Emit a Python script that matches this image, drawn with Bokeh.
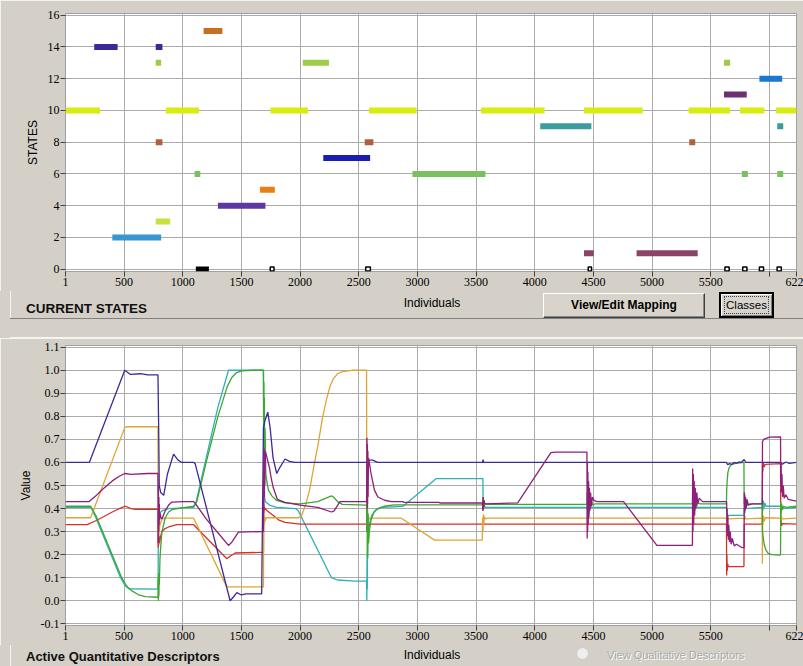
import numpy as np
from bokeh.plotting import figure
from bokeh.models import ColumnDataSource, FixedTicker, Range1d, PrintfTickFormatter, Div
from bokeh.layouts import column
from bokeh.embed import file_html
from bokeh.resources import INLINE

PANEL = "#d4d0c8"
GRID = "#ababab"
FONT = "Liberation Sans"
TICK_FONT = "Liberation Sans Narrow"
W = 803

XMAX = 6231
x_ticks = [1, 500, 1000, 1500, 2000, 2500, 3000, 3500, 4000, 4500, 5000, 5500, 6000, XMAX]
x_overrides = {6000: "", XMAX: "622"}

# ---------------- top chart: current states ----------------
state_ticks = [0, 2, 4, 6, 8, 10, 12, 14, 16]
seg_start = [1, 246, 770, 770, 1178, 856, 770, 1101, 1659, 1300, 770, 400, 2024, 1748, 2198,
             2551, 2588, 2958, 3543, 4047, 4420, 4420, 4868, 5317, 5312, 5613, 5613, 5750,
             5765, 5915, 6058, 6067, 6067]
seg_end = [295, 445, 827, 816, 1338, 1138, 827, 1150, 1785, 1705, 893, 816, 2246, 2067, 2597,
           2625, 2993, 3580, 4084, 4483, 4919, 4503, 5389, 5368, 5665, 5665, 5807, 5958,
           5816, 6109, 6231, 6118, 6118]
seg_state = [10, 14, 14, 13, 15, 10, 8, 6, 5, 4, 3, 2, 13, 10, 7,
             8, 10, 6, 10, 9, 10, 1, 1, 8, 10, 13, 11, 10,
             6, 12, 10, 9, 6]
zero_solid_start = [1112]
zero_solid_end = [1223]
zero_open_start = [1739, 2551, 4450, 5613, 5765, 5907, 6058]
zero_open_end = [1785, 2608, 4490, 5665, 5816, 5958, 6109]

state_colors = {1: "#8c4466", 2: "#3897d0", 3: "#c8e040", 4: "#5c38a0", 5: "#e88018",
                6: "#78c060", 7: "#1c1cb0", 8: "#b0603c", 9: "#3a9c9c", 10: "#d8ec10",
                11: "#6e3070", 12: "#1a78d0", 13: "#9ccc48", 14: "#3a2a96", 15: "#c4701e"}

# ---------------- bottom chart: quantitative descriptors ----------------
value_ticks = [-0.1, 0.0, 0.1, 0.2, 0.3, 0.4, 0.5, 0.6, 0.7, 0.8, 0.9, 1.0, 1.1]

indigo_pts = [(1, 0.6), (204, 0.6), (506, 1.0), (520, 0.995), (555, 0.982), (640, 0.985),
              (700, 0.98), (789, 0.98), (795, 0.75), (800, 0.5), (812, 0.47), (838, 0.457),
              (870, 0.55), (922, 0.636), (960, 0.61), (993, 0.6), (1093, 0.6), (1106, 0.595),
              (1404, 0.0), (1430, 0.015), (1461, 0.035), (1500, 0.025), (1540, 0.03),
              (1673, 0.03), (1688, 0.75), (1700, 0.78), (1725, 0.818), (1745, 0.75),
              (1770, 0.62), (1801, 0.552), (1830, 0.58), (1872, 0.615), (1910, 0.605),
              (1957, 0.6), (2567, 0.6), (2575, 0.6), (2590, 0.61), (2620, 0.61), (2660, 0.6),
              (3555, 0.6), (3560, 0.612), (3565, 0.6), (5633, 0.6), (5645, 0.59), (5660, 0.595),
              (5680, 0.592), (5700, 0.6), (5720, 0.597), (5740, 0.602), (5760, 0.6),
              (5785, 0.613), (5800, 0.6), (5940, 0.6), (5960, 0.6), (6000, 0.6), (6095, 0.6),
              (6110, 0.592), (6140, 0.602), (6170, 0.596), (6231, 0.6)]

magenta_pts = [(1, 0.43), (200, 0.43), (260, 0.455), (320, 0.485), (400, 0.52), (460, 0.54),
               (505, 0.552), (560, 0.548), (700, 0.552), (789, 0.553), (791, 0.25), (793, 0.5),
               (795, 0.3), (797, 0.45), (799, 0.33), (801, 0.42), (803, 0.35), (806, 0.38),
               (815, 0.36), (823, 0.355), (851, 0.39), (880, 0.415), (908, 0.428), (1000, 0.43),
               (1093, 0.43), (1110, 0.42), (1200, 0.355), (1300, 0.295), (1390, 0.24),
               (1420, 0.255), (1475, 0.298), (1673, 0.3), (1688, 0.3), (1690, 0.6), (1692, 0.4),
               (1694, 0.66), (1696, 0.45), (1698, 0.64), (1700, 0.5), (1705, 0.648),
               (1738, 0.58), (1755, 0.53), (1772, 0.49), (1806, 0.44), (1872, 0.427),
               (2000, 0.415), (2150, 0.405), (2268, 0.385), (2290, 0.39), (2340, 0.43),
               (2567, 0.43), (2570, 0.707), (2572, 0.4), (2574, 0.68), (2576, 0.42),
               (2578, 0.65), (2580, 0.45), (2583, 0.62), (2590, 0.6), (2605, 0.552),
               (2634, 0.48), (2663, 0.45), (2720, 0.436), (2780, 0.43), (2878, 0.43),
               (2885, 0.427), (3185, 0.427), (3192, 0.424), (3555, 0.424),
               (3558, 0.39), (3561, 0.45), (3564, 0.4), (3568, 0.435), (3575, 0.42),
               (3855, 0.425), (4138, 0.643), (4180, 0.645), (4436, 0.645), (4445, 0.645),
               (4447, 0.27), (4449, 0.6), (4451, 0.3), (4453, 0.56), (4456, 0.33), (4459, 0.52),
               (4462, 0.36), (4466, 0.49), (4470, 0.39), (4476, 0.47), (4483, 0.41),
               (4492, 0.45), (4505, 0.435), (4530, 0.43), (4757, 0.43), (5041, 0.24),
               (5344, 0.24), (5346, 0.574), (5349, 0.3), (5352, 0.55), (5355, 0.33),
               (5359, 0.52), (5363, 0.37), (5368, 0.49), (5374, 0.4), (5381, 0.47),
               (5390, 0.42), (5402, 0.445), (5430, 0.43), (5634, 0.43), (5636, 0.42),
               (5638, 0.3), (5640, 0.4), (5643, 0.28), (5646, 0.37), (5650, 0.265),
               (5654, 0.33), (5660, 0.255), (5666, 0.3), (5674, 0.245), (5684, 0.27),
               (5700, 0.238), (5720, 0.245), (5768, 0.23), (5784, 0.23), (5786, 0.47),
               (5788, 0.38), (5790, 0.46), (5793, 0.39), (5797, 0.45), (5802, 0.4),
               (5810, 0.44), (5820, 0.415), (5854, 0.42), (5939, 0.42), (5941, 0.69),
               (5950, 0.7), (6000, 0.71), (6095, 0.711), (6097, 0.5), (6100, 0.6),
               (6103, 0.47), (6107, 0.55), (6112, 0.45), (6118, 0.5), (6126, 0.445),
               (6140, 0.46), (6160, 0.44), (6200, 0.435), (6231, 0.432)]

green_pts = [(1, 0.41), (215, 0.41), (260, 0.37), (480, 0.1), (520, 0.065), (560, 0.045),
             (620, 0.027), (680, 0.018), (789, 0.015), (791, 0.1), (793, 0.0), (795, 0.12),
             (797, 0.02), (799, 0.1), (801, 0.07), (806, 0.18), (812, 0.23), (823, 0.3),
             (851, 0.36), (880, 0.385), (908, 0.395), (993, 0.403), (1093, 0.41),
             (1120, 0.43), (1200, 0.6), (1300, 0.8), (1380, 0.93), (1420, 0.97), (1460, 0.99),
             (1503, 0.997), (1600, 1.0), (1688, 1.0), (1690, 0.78), (1692, 0.95), (1694, 0.7),
             (1696, 0.88), (1698, 0.62), (1702, 0.75), (1708, 0.55), (1716, 0.52),
             (1730, 0.48), (1760, 0.455), (1800, 0.435), (1872, 0.425), (2000, 0.42),
             (2150, 0.43), (2268, 0.455), (2285, 0.45), (2320, 0.43), (2360, 0.418),
             (2567, 0.415), (2569, 0.3), (2571, 0.45), (2573, 0.2), (2575, 0.42),
             (2577, 0.185), (2580, 0.38), (2584, 0.25), (2590, 0.3), (2605, 0.35),
             (2630, 0.385), (2660, 0.4), (2720, 0.41), (2800, 0.416), (3555, 0.416),
             (3558, 0.45), (3561, 0.39), (3564, 0.44), (3568, 0.405), (3575, 0.42),
             (3600, 0.418), (4445, 0.418), (4447, 0.47), (4450, 0.34), (4453, 0.46),
             (4456, 0.36), (4460, 0.45), (4464, 0.38), (4469, 0.44), (4475, 0.4),
             (4483, 0.43), (4495, 0.415), (4510, 0.42), (5344, 0.42), (5346, 0.47),
             (5349, 0.35), (5352, 0.46), (5356, 0.37), (5360, 0.45), (5365, 0.39),
             (5372, 0.435), (5380, 0.41), (5392, 0.425), (5410, 0.42), (5634, 0.42),
             (5636, 0.48), (5640, 0.52), (5646, 0.555), (5655, 0.575), (5670, 0.588),
             (5700, 0.595), (5783, 0.6), (5785, 0.42), (5787, 0.47), (5789, 0.38),
             (5792, 0.45), (5796, 0.4), (5802, 0.43), (5812, 0.415), (5830, 0.42),
             (5939, 0.42), (5941, 0.3), (5946, 0.28), (5955, 0.245), (5970, 0.22),
             (5990, 0.205), (6020, 0.2), (6095, 0.198), (6097, 0.43), (6100, 0.38),
             (6104, 0.42), (6110, 0.395), (6120, 0.41), (6140, 0.405), (6231, 0.41)]

teal_pts = [(1, 0.405), (220, 0.405), (260, 0.36), (470, 0.1), (510, 0.065), (540, 0.052),
            (789, 0.05), (791, 0.15), (793, 0.35), (795, 0.25), (797, 0.4), (800, 0.36),
            (806, 0.38), (823, 0.39), (880, 0.4), (1093, 0.405), (1110, 0.42), (1200, 0.62),
            (1300, 0.84), (1390, 1.0), (1688, 1.0), (1690, 0.6), (1692, 0.8), (1694, 0.5),
            (1697, 0.45), (1705, 0.43), (1740, 0.415), (1800, 0.405), (1960, 0.4),
            (1985, 0.39), (2268, 0.1), (2320, 0.09), (2465, 0.085), (2567, 0.085),
            (2569, 0.0), (2571, 0.2), (2573, 0.05), (2576, 0.3), (2580, 0.25), (2590, 0.33),
            (2610, 0.37), (2650, 0.395), (2700, 0.405), (2878, 0.41), (3161, 0.53),
            (3558, 0.53), (3560, 0.44), (3562, 0.4), (3566, 0.415), (3580, 0.405),
            (5634, 0.405), (5636, 0.38), (5645, 0.37), (5783, 0.37), (5785, 0.4),
            (5939, 0.405), (5941, 0.44), (5944, 0.39), (5948, 0.435), (5953, 0.4),
            (5960, 0.425), (5970, 0.41), (6095, 0.41), (6098, 0.38), (6102, 0.415),
            (6110, 0.4), (6231, 0.405)]

orange_pts = [(1, 0.36), (215, 0.36), (505, 0.75), (520, 0.755), (789, 0.755), (791, 0.3),
              (793, 0.45), (795, 0.29), (797, 0.38), (800, 0.3), (806, 0.33), (823, 0.355),
              (850, 0.358), (1093, 0.358), (1376, 0.06), (1673, 0.06), (1688, 0.06),
              (1690, 0.34), (1692, 0.38), (1694, 0.33), (1697, 0.365), (1702, 0.345),
              (1710, 0.36), (1985, 0.36), (2013, 0.37), (2050, 0.42), (2085, 0.49),
              (2120, 0.59), (2156, 0.685), (2190, 0.79), (2226, 0.875), (2255, 0.93),
              (2283, 0.963), (2320, 0.985), (2354, 0.993), (2439, 1.0), (2567, 1.0),
              (2569, 0.36), (2571, 0.32), (2574, 0.38), (2577, 0.34), (2582, 0.365),
              (2590, 0.355), (2600, 0.358), (2863, 0.358), (3147, 0.263), (3553, 0.263),
              (3556, 0.36), (3559, 0.3), (3562, 0.375), (3566, 0.335), (3571, 0.365),
              (3580, 0.355), (3600, 0.358), (5634, 0.358), (5636, 0.345), (5640, 0.37),
              (5645, 0.355), (5783, 0.358), (5785, 0.35), (5789, 0.37), (5795, 0.355),
              (5939, 0.358), (5940, 0.16), (5942, 0.36), (5945, 0.33), (5950, 0.37),
              (5956, 0.345), (5965, 0.36), (6095, 0.358), (6097, 0.34), (6101, 0.37),
              (6108, 0.355), (6231, 0.358)]

red_pts = [(1, 0.33), (186, 0.33), (250, 0.345), (313, 0.361), (400, 0.385), (483, 0.405),
           (512, 0.41), (560, 0.4), (597, 0.397), (789, 0.397), (791, 0.23), (793, 0.3),
           (795, 0.24), (798, 0.28), (802, 0.25), (812, 0.28), (823, 0.3), (850, 0.313),
           (880, 0.32), (950, 0.33), (1093, 0.33), (1376, 0.182), (1410, 0.195),
           (1447, 0.207), (1673, 0.21), (1688, 0.21), (1690, 0.42), (1692, 0.38),
           (1695, 0.405), (1720, 0.39), (1772, 0.37), (1820, 0.35), (1872, 0.34),
           (2000, 0.332), (2567, 0.332), (2569, 0.3), (2571, 0.34), (2574, 0.31),
           (2578, 0.335), (2585, 0.325), (2600, 0.332), (5634, 0.332), (5636, 0.11),
           (5638, 0.2), (5641, 0.13), (5645, 0.16), (5650, 0.148), (5783, 0.148),
           (5785, 0.332), (5939, 0.332), (5941, 0.59), (5944, 0.56), (5948, 0.6),
           (5955, 0.58), (5965, 0.592), (6095, 0.595), (6097, 0.332), (6100, 0.35),
           (6104, 0.325), (6110, 0.335), (6231, 0.332)]

series = [(teal_pts, "#2fb0b4"), (red_pts, "#d23228"), (orange_pts, "#e0a432"),
          (green_pts, "#3fa62f"), (indigo_pts, "#3c2a9a"), (magenta_pts, "#8e1f7a")]


def style(p, yticks):
    p.background_fill_color = "white"
    p.border_fill_color = PANEL
    p.outline_line_color = "#a0a0a0"
    p.xaxis.ticker = FixedTicker(ticks=x_ticks)
    p.xaxis.major_label_overrides = x_overrides
    p.yaxis.ticker = FixedTicker(ticks=yticks)
    for ax in (p.xaxis[0], p.yaxis[0]):
        ax.axis_line_color = None
        ax.major_tick_line_color = "#404040"
        ax.major_tick_out = 5
        ax.major_tick_in = 0
        ax.minor_tick_line_color = None
        ax.major_label_text_font = TICK_FONT
        ax.major_label_text_font_size = "12px"
        ax.major_label_text_color = "black"
        ax.major_label_standoff = 1
        ax.axis_label_text_font = FONT
        ax.axis_label_text_font_size = "12px"
        ax.axis_label_text_font_style = "normal"
        ax.axis_label_text_color = "black"
        ax.axis_label_standoff = 5
    p.xgrid.grid_line_color = GRID
    p.ygrid.grid_line_color = GRID


def band(height, html):
    box = ("position:relative;width:%dpx;height:%dpx;background:%s;overflow:hidden;"
           "font-family:'Liberation Sans',Arial,sans-serif;color:#000;" % (W, height, PANEL))
    return Div(text='<div style="%s">%s</div>' % (box, html), width=W, height=height,
               margin=0, disable_math=True, styles={"overflow": "hidden", "padding": "0"})


# ---------------- top figure ----------------
top = figure(width=W, height=291, x_range=Range1d(1, XMAX), y_range=Range1d(-0.15, 16.11),
             output_backend="svg", toolbar_location=None,
             min_border_left=65, min_border_right=7, min_border_top=13, min_border_bottom=20)
style(top, state_ticks)
top.yaxis.axis_label = "STATES"

ss = np.array(seg_start, dtype=float)
se = np.array(seg_end, dtype=float)
seg_src = ColumnDataSource(dict(x=(ss + se) / 2, w=se - ss, y=seg_state,
                                c=[state_colors[s] for s in seg_state]))
top.rect(x="x", y="y", width="w", height=6, height_units="screen", source=seg_src,
         fill_color="c", line_color=None)

zs = np.array(zero_solid_start, dtype=float)
ze = np.array(zero_solid_end, dtype=float)
top.rect(x=(zs + ze) / 2, y=[0] * len(zs), width=ze - zs, height=5, height_units="screen",
         fill_color="black", line_color=None)
zo = np.array(zero_open_start, dtype=float)
zoe = np.array(zero_open_end, dtype=float)
top.rect(x=(zo + zoe) / 2, y=[0] * len(zo), width=(zoe - zo) * 0.7, height=4,
         height_units="screen", fill_color="white", line_color="black", line_width=1.5)

# ---------------- band under the top chart ----------------
ABS = "position:absolute;box-sizing:border-box;"
b1_html = (
    '<div style="%sleft:10px;top:27px;width:793px;height:1px;background:#808080"></div>' % ABS
    + '<div style="%sleft:10px;top:0;width:1px;height:27px;background:#f6f5f2"></div>' % ABS
    + '<div style="%sleft:10px;top:46px;width:793px;height:1px;background:#f6f5f2"></div>' % ABS
    + '<div style="%sleft:372px;top:5px;width:120px;height:14px;line-height:14px;'
      'font-size:12px;text-align:center">Individuals</div>' % ABS
    + '<div style="%sleft:26px;top:9px;height:17px;line-height:17px;font-size:13.5px;'
      'font-weight:bold;white-space:nowrap;color:#101010">CURRENT STATES</div>' % ABS
    + '<div style="%sleft:543px;top:2px;width:162px;height:25px;background:#d8d4cc;'
      'border:1px solid;border-color:#ffffff #404040 #404040 #ffffff;'
      'box-shadow:inset -1px -1px 0 #8a8a8a;font-size:12px;font-weight:bold;'
      'text-align:center;line-height:23px;white-space:nowrap">View/Edit Mapping</div>' % ABS
    + '<div style="%sleft:719px;top:1px;width:55px;height:26px;background:#d8d4cc;'
      'border:2px solid #000;box-shadow:inset 1px 1px 0 #ffffff, inset -1px -1px 0 #808080">'
      '<div style="%sleft:3px;top:2px;width:45px;height:18px;border:1px dotted #404040;'
      'font-size:11.5px;text-align:center;line-height:16px;white-space:nowrap">Classes</div>'
      '</div>' % (ABS, ABS)
)
b1 = band(47, b1_html)

# ---------------- bottom figure ----------------
bot = figure(width=W, height=307, x_range=Range1d(1, XMAX),
             y_range=Range1d(-0.1075, 1.1075),
             output_backend="svg", toolbar_location=None,
             min_border_left=65, min_border_right=7, min_border_top=7, min_border_bottom=20)
style(bot, value_ticks)
bot.yaxis.formatter = PrintfTickFormatter(format="%.1f")
bot.yaxis.axis_label = "Value"

for pts, col in series:
    xs = [q[0] for q in pts]
    ys = [q[1] for q in pts]
    bot.line(xs, ys, line_color=col, line_width=1.3)

# ---------------- band under the bottom chart ----------------
b2_html = (
    '<div style="%sleft:10px;top:0;width:1px;height:21px;background:#f6f5f2"></div>' % ABS
    + '<div style="%sleft:26px;top:4px;height:16px;line-height:16px;font-size:13px;'
      'font-weight:bold;white-space:nowrap;color:#101010">Active Quantitative Descriptors</div>'
      % ABS
    + '<div style="%sleft:372px;top:3px;width:120px;height:14px;line-height:14px;'
      'font-size:12px;text-align:center">Individuals</div>' % ABS
    + '<div style="%sleft:576px;top:2px;width:13px;height:13px;border-radius:50%%;'
      'border:1px solid #c8c8c8;background:#eeeeee"></div>' % ABS
    + '<div style="%sleft:607px;top:3px;height:14px;line-height:14px;font-size:11px;'
      'white-space:nowrap;color:#a8a8a8;text-shadow:1px 1px 0 #ffffff">'
      'View Qualitative Descriptors</div>' % ABS
)
b2 = band(21, b2_html)

layout = column(top, b1, bot, b2, spacing=0)
open("out.html", "w").write(file_html(layout, INLINE))
